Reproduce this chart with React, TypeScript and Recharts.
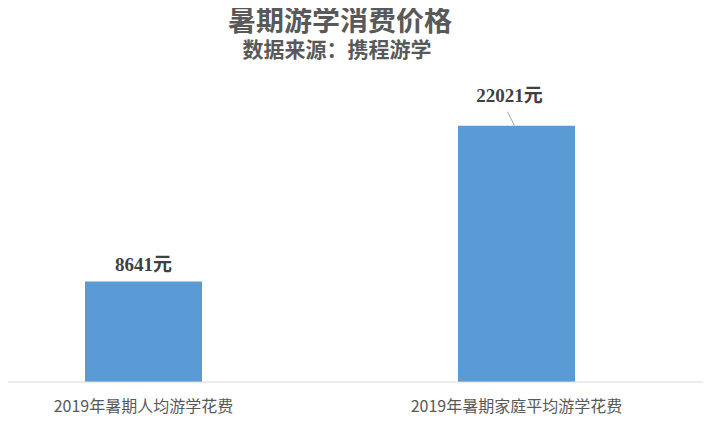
import { BarChart, Bar, XAxis, YAxis, LabelList } from "recharts";

const categories = ["2019年暑期人均游学花费", "2019年暑期家庭平均游学花费"];
const values = [8641, 22021];
const unit = "元";

const data = categories.map((name, i) => ({ name, value: values[i] }));

const GRAY = "#595959";
const BLUE = "#5B9BD5";
const CJK = '"Noto Sans CJK SC", "Noto Sans", sans-serif';

function ValueLabel(props: any) {
  const { x, y, width, value, index } = props;
  const cx = x + width / 2;
  const text = `${value}${unit}`;
  const style = {
    fontFamily: '"Liberation Serif", "Noto Sans CJK SC", serif',
    fontWeight: 700,
    fontSize: 19,
    fill: "#404040",
  };
  if (index === 1) {
    return (
      <g>
        <line x1={cx - 9} y1={y - 14} x2={cx - 2} y2={y} stroke="#a6a6a6" strokeWidth={1} />
        <text x={cx - 7} y={y - 24} textAnchor="middle" style={style}>
          {text}
        </text>
      </g>
    );
  }
  return (
    <text x={cx} y={y - 10} textAnchor="middle" style={style}>
      {text}
    </text>
  );
}

export default function App() {
  return (
    <div style={{ position: "relative", width: 721, height: 430, marginLeft: -8, marginTop: -8, background: "#fff" }}>
      <svg width={721} height={70} style={{ position: "absolute", left: 0, top: 0 }}>
        <text
          x={340}
          y={31}
          textAnchor="middle"
          style={{ fontFamily: CJK, fontWeight: 700, fontSize: 28, fill: GRAY }}
        >
          暑期游学消费价格
        </text>
        <text
          x={337}
          y={57}
          textAnchor="middle"
          style={{ fontFamily: CJK, fontWeight: 700, fontSize: 21, fill: GRAY }}
        >
          数据来源：携程游学
        </text>
      </svg>
      <BarChart
        width={721}
        height={430}
        data={data}
        margin={{ top: 91, right: 18, left: -43, bottom: 18 }}
      >
        <XAxis
          dataKey="name"
          height={30}
          axisLine={{ stroke: "#d9d9d9" }}
          tickLine={false}
          tickMargin={13}
          tick={{ fontSize: 16, fill: GRAY, fontFamily: CJK }}
          interval={0}
        />
        <YAxis hide domain={[0, 25000]} />
        <Bar dataKey="value" fill={BLUE} barSize={117} isAnimationActive={false}>
          <LabelList dataKey="value" content={<ValueLabel />} />
        </Bar>
      </BarChart>
    </div>
  );
}
